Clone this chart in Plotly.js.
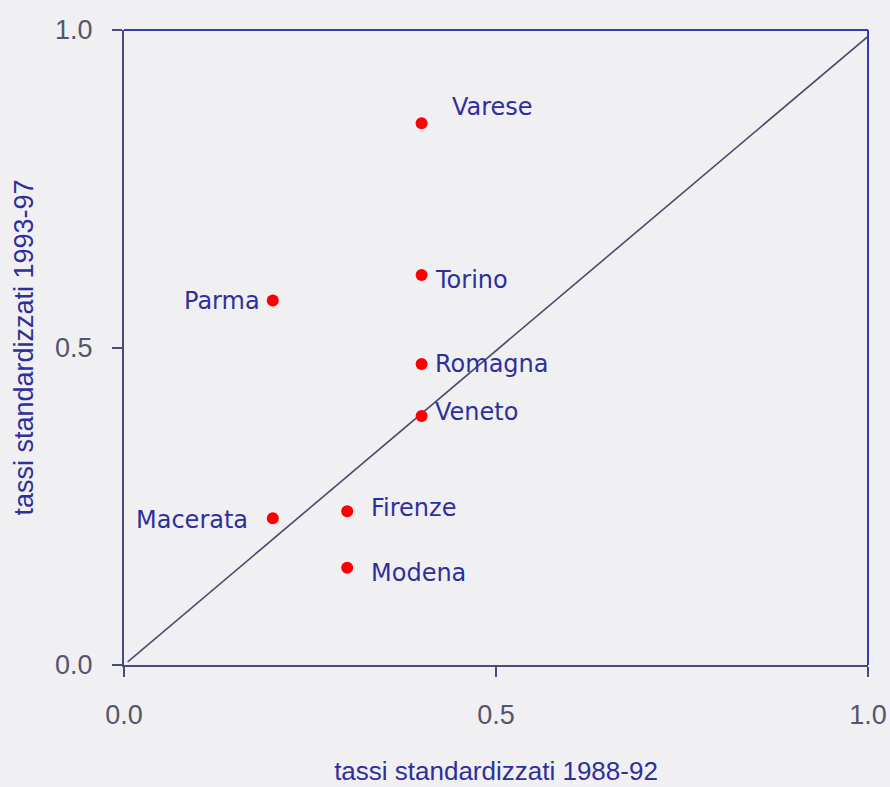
<!DOCTYPE html>
<html>
<head>
<meta charset="utf-8">
<script src="https://cdn.plot.ly/plotly-3.0.1.min.js"></script>
<style>
html,body{margin:0;padding:0;background:#f0f0f2;}
#chart{width:890px;height:787px;}
</style>
</head>
<body>
<div id="chart"></div>
<script>
// Data
const regions = ["Varese","Torino","Parma","Romagna","Veneto","Macerata","Firenze","Modena"];
const rate8892 = [0.40, 0.40, 0.20, 0.40, 0.40, 0.20, 0.30, 0.30];
const rate9397 = [0.853, 0.614, 0.574, 0.474, 0.392, 0.231, 0.242, 0.153];
const diagX = [0.005, 1.0];
const diagY = [0.005, 0.99];
const tickVals = [0, 0.5, 1.0];
const tickText = ["0.0", "0.5", "1.0"];

// label placement (pixels relative to marker)
const labelPos = {
  Varese:   {anchor:"left",  dx:28,  dy:16},
  Torino:   {anchor:"left",  dx:11,  dy:-5},
  Parma:    {anchor:"right", dx:-11, dy:0},
  Romagna:  {anchor:"left",  dx:11,  dy:0},
  Veneto:   {anchor:"left",  dx:11,  dy:4},
  Macerata: {anchor:"right", dx:-23, dy:-2},
  Firenze:  {anchor:"left",  dx:22,  dy:3},
  Modena:   {anchor:"left",  dx:22,  dy:-5}
};

const axisCol = "#4b4b78";
const textBlue = "#2f2f9c";
const tickFontCol = "#55556e";

const traces = [
  {x: diagX, y: diagY, mode: "lines", type: "scatter",
   line: {color: "#4a4a6e", width: 1.6}, hoverinfo: "skip", showlegend: false},
  {x: rate8892, y: rate9397, mode: "markers", type: "scatter",
   marker: {color: "#ff0000", size: 12}, text: regions, showlegend: false}
];

const annotations = regions.map((r, i) => ({
  x: rate8892[i], y: rate9397[i], xref: "x", yref: "y",
  text: r, showarrow: false,
  xanchor: labelPos[r].anchor, yanchor: "middle",
  xshift: labelPos[r].dx, yshift: labelPos[r].dy,
  font: {family: "DejaVu Sans, Verdana, sans-serif", size: 24, color: textBlue}
}));

const layout = {
  width: 890, height: 787,
  paper_bgcolor: "#f0f0f2", plot_bgcolor: "rgba(0,0,0,0)",
  margin: {l: 123.5, r: 22, t: 29.5, b: 122},
  showlegend: false,
  xaxis: {
    range: [0, 1], tickvals: tickVals, ticktext: tickText,
    showgrid: false, zeroline: false,
    showline: true, linecolor: axisCol, linewidth: 2,
    ticks: "outside", ticklen: 10, tickcolor: axisCol, tickwidth: 2,
    ticklabelstandoff: 15,
    tickfont: {family: "Liberation Sans, Arial, sans-serif", size: 27, color: tickFontCol},
    title: {text: "tassi standardizzati 1988-92", standoff: 32,
            font: {family: "Liberation Sans, Arial, sans-serif", size: 26, color: textBlue}}
  },
  yaxis: {
    range: [0, 1], tickvals: tickVals, ticktext: tickText,
    showgrid: false, zeroline: false,
    showline: true, linecolor: axisCol, linewidth: 2,
    ticks: "outside", ticklen: 10, tickcolor: axisCol, tickwidth: 2,
    ticklabelstandoff: 14,
    tickfont: {family: "Liberation Sans, Arial, sans-serif", size: 27, color: tickFontCol},
    title: {text: "tassi standardizzati 1993-97", standoff: 14,
            font: {family: "Liberation Sans, Arial, sans-serif", size: 27, color: textBlue}}
  },
  shapes: [
    {type: "line", xref: "paper", yref: "paper", x0: 0, x1: 1, y0: 1, y1: 1,
     line: {color: "#3a3aae", width: 2}},
    {type: "line", xref: "paper", yref: "paper", x0: 1, x1: 1, y0: 0, y1: 1,
     line: {color: "#3a3aae", width: 2}}
  ],
  annotations: annotations
};

Plotly.newPlot("chart", traces, layout, {displayModeBar: false, staticPlot: true});
</script>
</body>
</html>
